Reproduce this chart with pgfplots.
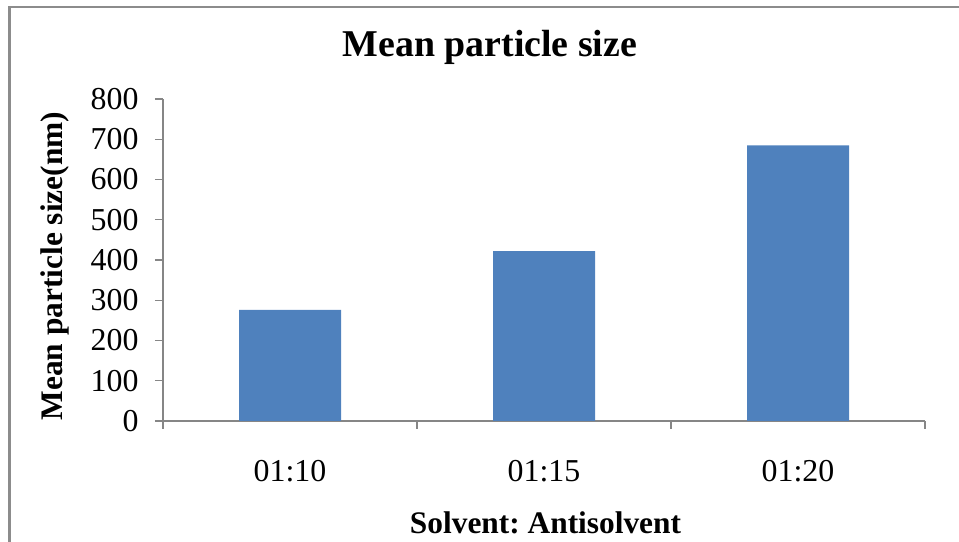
\documentclass[border=0pt]{standalone}
\usepackage{pgfplots}
\pgfplotsset{compat=1.18}
\usepackage{fontspec}
\setmainfont{Liberation Serif}
\frenchspacing
\definecolor{barblue}{HTML}{4F81BD}
\definecolor{axgray}{HTML}{868686}
\definecolor{framegray}{HTML}{8C8C8C}
\begin{document}
\begin{tikzpicture}
\useasboundingbox (0,0) rectangle (959bp,542bp);
\draw[framegray, line width=2.5bp] (9.5bp,-10bp) -- (9.5bp,535bp) -- (975bp,535bp);
\begin{axis}[
  at={(163bp,121bp)}, anchor=south west,
  scale only axis, width=762bp, height=322bp,
  xmin=-0.5, xmax=2.5, ymin=0, ymax=800,
  axis x line*=bottom, axis y line*=left,
  axis line style={draw=axgray, line width=1.2bp, -},
  tick style={draw=axgray, line width=1.2bp},
  tick align=outside,
  xtick={0,1,2},
  xticklabels={01:10,01:15,01:20},
  major x tick style={draw=none},
  minor xtick={-0.5,0.5,1.5,2.5},
  minor tick length=8bp,
  major tick length=8bp,
  ytick={0,100,...,800},
  /pgf/number format/assume math mode=true,
  ticklabel style={font=\fontsize{32}{32}\selectfont},
  xticklabel style={anchor=base, yshift=-52bp},
  yticklabel style={xshift=-13bp},
  title={Mean particle size},
  title style={font=\bfseries\fontsize{38}{38}\selectfont, anchor=base,
    at={(axis description cs:0.429,1.112)}},
  xlabel={Solvent: Antisolvent},
  xlabel style={font=\bfseries\fontsize{31.5}{31.5}\selectfont, anchor=base,
    at={(axis description cs:0.502,-0.348)}},
  ylabel={Mean particle size(nm)},
  ylabel style={font=\bfseries\fontsize{31.5}{31.5}\selectfont, anchor=base, rotate=0,
    at={(axis description cs:-0.1325,0.481)}},
  ybar, bar width=102bp,
]
\addplot[fill=barblue, draw=none] coordinates {(0,276) (1,422) (2,685)};
\end{axis}
\end{tikzpicture}
\end{document}
